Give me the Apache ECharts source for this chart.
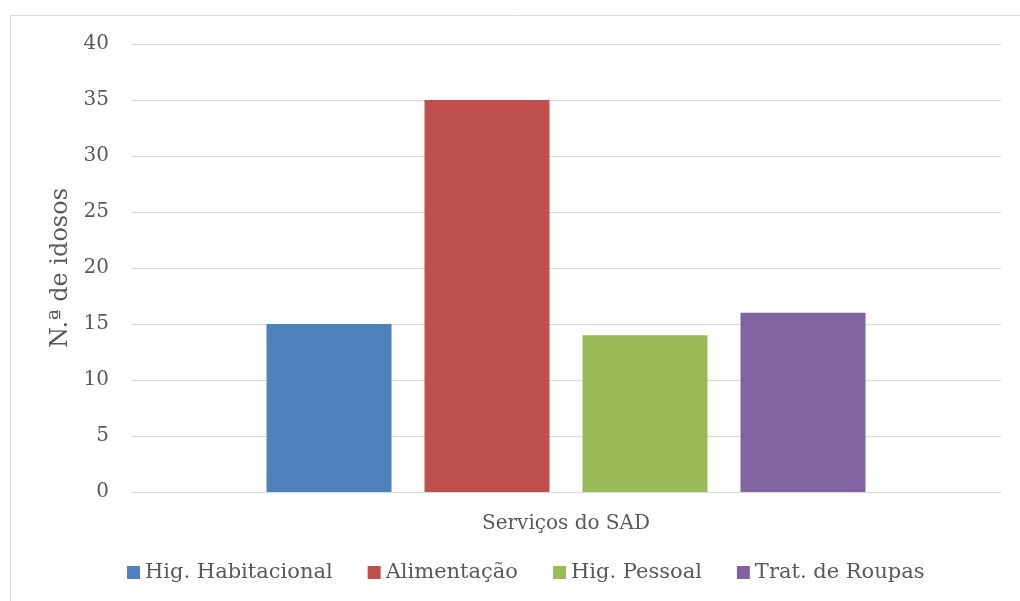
<!DOCTYPE html>
<html><head><meta charset="utf-8">
<script src="https://cdn.jsdelivr.net/npm/echarts@6/dist/echarts.min.js"></script>
<style>html,body{margin:0;padding:0;background:#fff}#c{width:1020px;height:601px}</style>
</head><body><div id="c"></div>
<script>
const categories = ['Serviços do SAD'];
const seriesNames = ['Hig. Habitacional', 'Alimentação', 'Hig. Pessoal', 'Trat. de Roupas'];
const seriesValues = [[15], [35], [14], [16]];
const seriesColors = ['#4f81bd', '#c0504d', '#9bbb59', '#8064a2'];
const yTicks = [0, 5, 10, 15, 20, 25, 30, 35, 40];

const FONT = '"DejaVu Serif", serif';
const chart = echarts.init(document.getElementById('c'), null, {renderer: 'canvas'});
chart.setOption({
  animation: false,
  graphic: [{type: 'rect', shape: {x: 10.5, y: 15.5, width: 1030, height: 620}, style: {fill: 'none', stroke: '#d9d9d9', lineWidth: 1}}],
  grid: {left: 131, right: 19, top: 44, bottom: 109, containLabel: false},
  legend: {
    bottom: 13, left: 122, itemWidth: 13, itemHeight: 13, itemGap: 35, icon: 'rect',
    textStyle: {fontFamily: FONT, fontSize: 21, color: '#595959'},
    data: seriesNames
  },
  xAxis: {
    type: 'category', data: categories,
    axisLine: {lineStyle: {color: '#d9d9d9', width: 1}}, axisTick: {show: false},
    axisLabel: {show: false},
    name: categories[0], nameLocation: 'middle', nameGap: 22,
    nameTextStyle: {fontFamily: FONT, fontSize: 20, color: '#595959'}
  },
  yAxis: {
    type: 'value', min: yTicks[0], max: yTicks[yTicks.length - 1], interval: 5,
    axisLine: {show: false}, axisTick: {show: false},
    splitLine: {lineStyle: {color: '#d9d9d9', width: 1}},
    axisLabel: {fontFamily: FONT, fontSize: 20, color: '#595959', margin: 22},
    name: 'N.ª de idosos', nameLocation: 'middle', nameGap: 58, nameRotate: 90,
    nameTextStyle: {fontFamily: FONT, fontSize: 24, color: '#595959'}
  },
  series: seriesNames.map((n, i) => ({
    type: 'bar', name: n, data: seriesValues[i], barWidth: 125, barGap: '26.4%',
    itemStyle: {color: seriesColors[i]}
  }))
});
</script></body></html>
